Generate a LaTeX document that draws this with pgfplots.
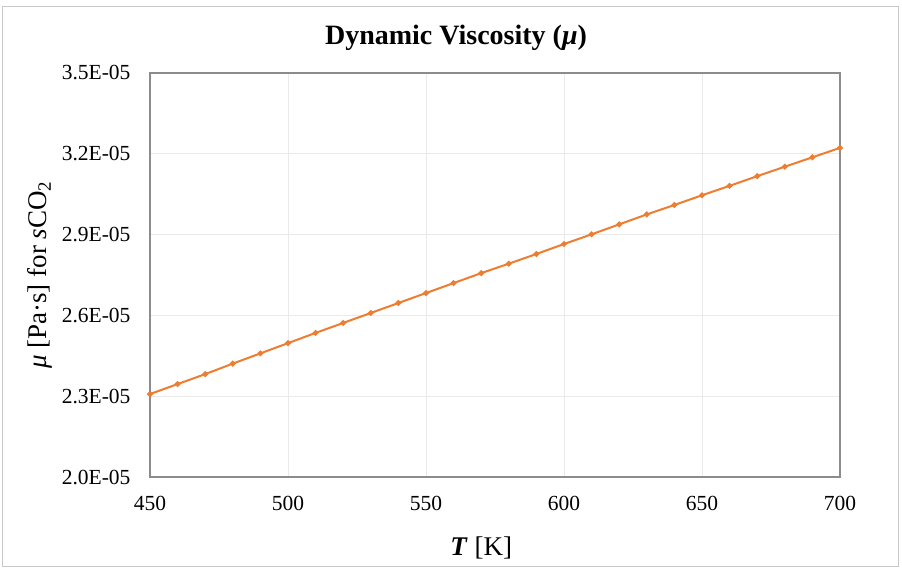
\documentclass[border=0pt]{standalone}
\usepackage{pgfplots}
\pgfplotsset{compat=1.18}
\usepackage{fontspec}
\setmainfont{Liberation Serif}
\definecolor{exorange}{HTML}{ED7D31}
\definecolor{gridc}{HTML}{EAEAEA}
\definecolor{axc}{HTML}{8C8C8C}
\definecolor{borderc}{HTML}{C8C8C8}
\begin{document}
\begin{tikzpicture}[x=1pt,y=1pt]
\useasboundingbox (0,0) rectangle (902,571);
\draw[borderc, line width=1pt] (2,5) rectangle (898,564);
\node[font=\fontsize{28}{32}\selectfont\bfseries] at (456,533) {Dynamic Viscosity (\textit{μ})};
\begin{axis}[
  at={(150pt,94pt)}, anchor=south west,
  scale only axis, width=690pt, height=404pt,
  xmin=450, xmax=700, ymin=2.0e-5, ymax=3.5e-5,
  xtick={450,500,...,700},
  ytick={2.0e-5,2.3e-5,2.6e-5,2.9e-5,3.2e-5,3.5e-5},
  yticklabels={2.0E-05,2.3E-05,2.6E-05,2.9E-05,3.2E-05,3.5E-05},
  scaled y ticks=false,
  /pgf/number format/assume math mode=true,
  tick label style={font=\fontsize{21.5}{24}\selectfont},
  xticklabel style={yshift=-16pt},
  yticklabel style={xshift=-16pt},
  grid=major, grid style={gridc, line width=0.8pt},
  axis line style={axc, line width=1.2pt},
  major tick length=0pt,
  xlabel={\textbf{\textit{T}} [K]},
  ylabel={\textit{μ} [Pa·s] for \textit{s}CO\textsubscript{2}},
  label style={font=\fontsize{27}{30}\selectfont},
  xlabel style={at={(axis description cs:0.48,0)}, anchor=center, yshift=-71pt},
  ylabel style={at={(axis description cs:-0.159,0.5)}, anchor=center, rotate=0},
]
\addplot[exorange, line width=2pt, mark=*, mark size=1.8pt, mark options={fill=exorange, draw=exorange}] table {
x y
450 2.308e-5
460 2.345e-5
470 2.382e-5
480 2.421e-5
490 2.459e-5
500 2.497e-5
510 2.535e-5
520 2.572e-5
530 2.609e-5
540 2.646e-5
550 2.683e-5
560 2.720e-5
570 2.757e-5
580 2.792e-5
590 2.828e-5
600 2.865e-5
610 2.901e-5
620 2.938e-5
630 2.975e-5
640 3.010e-5
650 3.046e-5
660 3.081e-5
670 3.117e-5
680 3.152e-5
690 3.187e-5
700 3.222e-5
};
\end{axis}
\end{tikzpicture}
\end{document}
